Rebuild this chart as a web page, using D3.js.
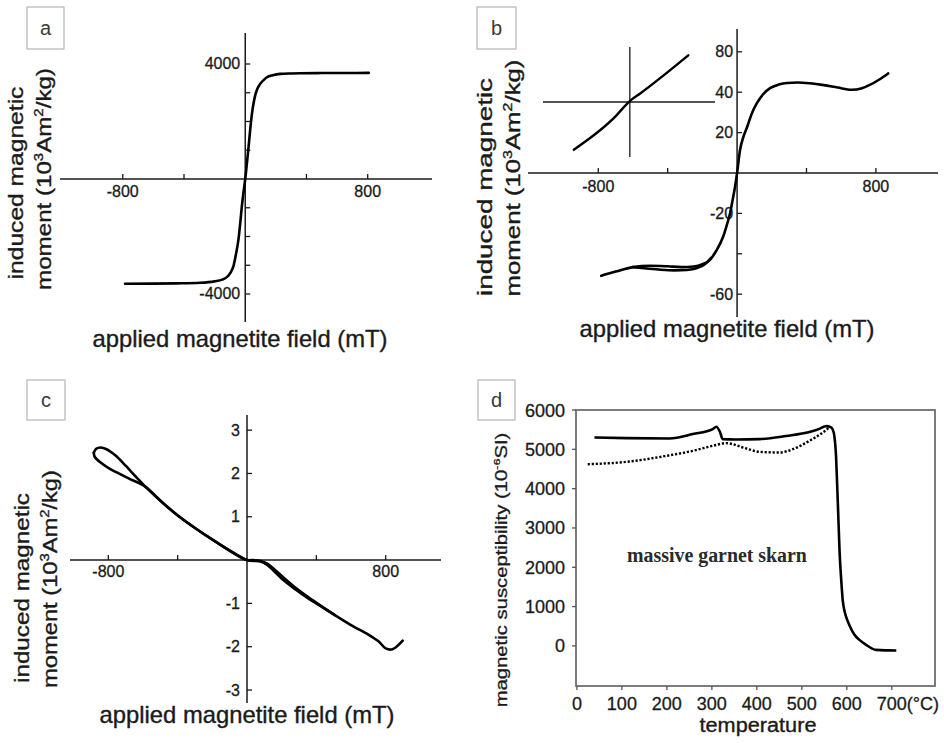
<!DOCTYPE html>
<html><head><meta charset="utf-8">
<script src="https://cdn.jsdelivr.net/npm/d3@7"></script>
<style>body{margin:0;background:#fff}</style>
</head><body>
<svg id="chart" width="944" height="743"></svg>
<script>
// ---------- DATA ----------
// Panel a: hysteresis loop
const aField  = [-785,-600,-450,-294,-200,-150,-120,-95,-76,-60,-44,-33,-22,-11,0,11,22,33,44,55,65,80,98,120,142,180,229,300,360,500,650,807];
const aMoment = [-3644,-3640,-3630,-3609,-3560,-3500,-3414,-3250,-3011,-2600,-2092,-1550,-943,-450,0,550,1126,1750,2276,2650,2908,3150,3310,3440,3540,3610,3655,3670,3678,3685,3688,3690];
const aXTicks = [-800,-400,400,800];
const aXTickLabels = ["-800","","","800"];
const aYTicks = [4000,3000,2000,1000,-1000,-2000,-3000,-4000];
const aYTickLabels = ["4000","","","","","","","-4000"];

// Panel b
const bField  = [-783,-700,-600,-500,-400,-320,-250,-200,-156,-120,-81,-60,-40,-25,-12,0,17,35,58,85,115,150,190,240,288,350,420,500,580,660,720,765,820,871];
const bMoment = [-50.9,-48.8,-46.6,-45.9,-46.2,-46.6,-46.3,-45.2,-43,-38.5,-31.7,-26,-19.8,-13,-6.9,0,11.4,17.5,22.8,29.5,34.7,39,42,43.8,44.6,44.8,44.4,43.5,42.3,41.2,42,43.6,46.3,49.3];
const bLoopField  = [-600,-520,-440,-360,-290,-230,-180,-150];
const bLoopMoment = [-46.6,-47.3,-47.9,-48.2,-48,-47,-44.8,-42];
const bInsetX = [-1.68,-0.40,-0.10,0.05,0.30,1.75];
const bInsetY = [-1.43,-0.40,-0.07,0.07,0.25,1.40];
const bXTicks = [-800,-400,400,800];
const bXTickLabels = ["-800","","","800"];
const bYTicks = [60,40,20,-20,-40,-60];
const bYTickLabels = ["80","40","20","-20","","-60"];

// Panel c
const cFieldA  = [898,839,800,760,700,600,507,420,351,280,215,160,117,78,30,0,-78,-195,-300,-390,-480,-585,-640,-700,-760,-810,-845,-870,-884];
const cMomentA = [-1.86,-2.06,-2.04,-1.88,-1.72,-1.5,-1.27,-1.04,-0.85,-0.64,-0.42,-0.22,-0.08,-0.02,0,0,0.17,0.46,0.74,1.0,1.3,1.69,1.92,2.18,2.42,2.56,2.6,2.57,2.48];
const cFieldB  = [-884,-878,-850,-800,-740,-680,-620,-585,-480,-390,-195,0,78,117,160,215,280,351,420,507];
const cMomentB = [2.48,2.38,2.27,2.13,2.0,1.88,1.77,1.69,1.3,1.0,0.46,0,-0.03,-0.11,-0.27,-0.48,-0.68,-0.88,-1.05,-1.27];
const cXTicks = [-800,-400,400,800];
const cXTickLabels = ["-800","","","800"];
const cYTicks = [3,2,1,-1,-2,-3];
const cYTickLabels = ["3","2","1","-1","-2","-3"];

// Panel d: thermomagnetic curves
const dTempHeat = [39,110,206,258,302,310,318,324,354,406,465,517,539,554,565,571,574,576,578,580,584,588,591,595,599,606,617,628,643,665,690,710];
const dSuscHeat = [5302,5285,5277,5387,5515,5574,5440,5260,5250,5260,5340,5440,5520,5590,5560,5420,5150,4834,4250,3643,2366,1600,1150,880,720,520,281,153,26,-102,-115,-119];
const dTempCool = [24,110,199,258,302,332,369,406,450,480,517,547,561];
const dSuscCool = [4621,4681,4834,4962,5089,5157,5047,4936,4919,5004,5217,5430,5557];
const dXTicks = [0,100,200,300,400,500,600,700];
const dXTickLabels = ["0","100","200","300","400","500","600","700"];
const dYTicks = [6000,5000,4000,3000,2000,1000,0];
const dYTickLabels = ["6000","5000","4000","3000","2000","1000","0"];

// ---------- DRAWING ----------
const svg = d3.select("#chart");
const FONT = "'Liberation Sans', Arial, Helvetica, sans-serif";
const INK = "#1a1a1a";

function addText(parent, parts, o) {
  const size = o.size;
  const t = parent.append("text")
    .attr("font-family", o.family || FONT)
    .attr("font-size", size)
    .attr("font-weight", o.weight || "normal")
    .attr("fill", o.fill || INK)
    .attr("stroke", o.fill || INK)
    .attr("stroke-width", o.sw === undefined ? 0.35 : o.sw)
    .attr("text-anchor", o.anchor || "middle");
  let shifted = false;
  parts.forEach(p => {
    const sup = typeof p !== "string";
    const ts = t.append("tspan").text(sup ? p.sup : p);
    if (sup) {
      ts.attr("font-size", size * 0.62);
      if (!shifted) ts.attr("dy", -size * 0.42);
      shifted = true;
    } else if (shifted) {
      ts.attr("dy", size * 0.42);
      shifted = false;
    }
  });
  let sx = 1;
  if (o.length) { const w = t.node().getBBox().width; sx = o.length / w; }
  t.attr("transform", `translate(${o.x},${o.y}) rotate(${o.rotate || 0}) scale(${sx},1)`);
  return t;
}

function tickText(g, x, y, anchor, size, txt) {
  return g.append("text").attr("x", x).attr("y", y).attr("text-anchor", anchor)
    .attr("font-family", FONT).attr("font-size", size).attr("fill", INK)
    .attr("stroke", INK).attr("stroke-width", 0.3).text(txt);
}

function letterBox(x, y, w, h, letter) {
  svg.append("rect").attr("x", x).attr("y", y).attr("width", w).attr("height", h)
    .attr("fill", "#fff").attr("stroke", "#b5b5b5").attr("stroke-width", 1.2);
  svg.append("text").attr("x", x + w / 2).attr("y", y + h / 2 + 7)
    .attr("text-anchor", "middle").attr("font-family", FONT).attr("font-size", 20)
    .attr("fill", "#3a3a3a").text(letter);
}

function drawHyst(c) {
  const g = svg.append("g");
  const x = d3.scaleLinear().domain(c.xDomain).range(c.xRange);
  const y = d3.scaleLinear().domain(c.yDomain).range(c.yRange);
  const x0 = x(0), y0 = y(0);
  g.append("line").attr("x1", c.xRange[0]).attr("x2", c.xRange[1]).attr("y1", y0).attr("y2", y0)
    .attr("stroke", INK).attr("stroke-width", 1.5);
  g.append("line").attr("x1", x0).attr("x2", x0).attr("y1", c.yRange[0]).attr("y2", c.yRange[1])
    .attr("stroke", INK).attr("stroke-width", 1.5);
  c.xTicks.forEach((v, i) => {
    g.append("line").attr("x1", x(v)).attr("x2", x(v)).attr("y1", y0).attr("y2", y0 - 5)
      .attr("stroke", INK).attr("stroke-width", 1.3);
    if (c.xTickLabels[i]) tickText(g, x(v), y0 + c.xLabOff, "middle", 16, c.xTickLabels[i]);
  });
  c.yTicks.forEach((v, i) => {
    g.append("line").attr("x1", x0).attr("x2", x0 + 5).attr("y1", y(v)).attr("y2", y(v))
      .attr("stroke", INK).attr("stroke-width", 1.3);
    if (c.yTickLabels[i]) tickText(g, x0 - c.yLabOff, y(v) + 5.5, "end", 16, c.yTickLabels[i]);
  });
  c.series.forEach(s => {
    const pts = s.xs.map((v, i) => [x(v), y(s.ys[i])]);
    g.append("path").attr("d", d3.line().curve(s.curve || d3.curveCatmullRom.alpha(0.5))(pts))
      .attr("fill", "none").attr("stroke", "#000").attr("stroke-width", 2.6)
      .attr("stroke-linejoin", "round").attr("stroke-linecap", "round");
  });
  addText(g, ["applied magnetite field (mT)"], {x: c.xLab[0], y: c.xLab[1], size: 23, length: 295});
  addText(g, ["induced magnetic"], {x: c.yLab1[0], y: c.yLab1[1], size: 20, rotate: -90, length: c.yLab1[2]});
  addText(g, ["moment (10", {sup: "3"}, "Am", {sup: "2"}, "/kg)"], {x: c.yLab2[0], y: c.yLab2[1], size: 20, rotate: -90, length: c.yLab2[2]});
  return {g, x, y};
}

// Panel a
letterBox(27, 7, 37, 42, "a");
drawHyst({
  xDomain: [-1210, 1220], xRange: [60, 432],
  yDomain: [-4974, 5078], yRange: [322, 33],
  xTicks: aXTicks, xTickLabels: aXTickLabels, xLabOff: 18,
  yTicks: aYTicks, yTickLabels: aYTickLabels, yLabOff: 5,
  series: [{xs: aField, ys: aMoment, curve: d3.curveMonotoneX}],
  xLab: [240, 347], yLab1: [23, 183, 193], yLab2: [51, 179, 222]
});

// Panel b
letterBox(477, 7, 39, 42, "b");
drawHyst({
  xDomain: [-1205, 1158], xRange: [528, 938],
  yDomain: [-71.3, 71.3], yRange: [317, 29],
  xTicks: bXTicks, xTickLabels: bXTickLabels, xLabOff: 19,
  yTicks: bYTicks, yTickLabels: bYTickLabels, yLabOff: 4,
  series: [{xs: bField, ys: bMoment, curve: d3.curveMonotoneX},
           {xs: bLoopField, ys: bLoopMoment, curve: d3.curveMonotoneX}],
  xLab: [727, 337], yLab1: [492, 187, 218], yLab2: [520, 178, 237]
});
{
  const ix = d3.scaleLinear().domain([-2.6, 2.55]).range([543, 715]);
  const iy = d3.scaleLinear().domain([-1.65, 1.65]).range([157, 47]);
  svg.append("line").attr("x1", ix(-2.6)).attr("x2", ix(2.55)).attr("y1", iy(0)).attr("y2", iy(0))
    .attr("stroke", INK).attr("stroke-width", 1.3);
  svg.append("line").attr("x1", ix(0)).attr("x2", ix(0)).attr("y1", iy(1.65)).attr("y2", iy(-1.65))
    .attr("stroke", INK).attr("stroke-width", 1.3);
  svg.append("path").attr("d", d3.line().curve(d3.curveMonotoneX)(bInsetX.map((v, i) => [ix(v), iy(bInsetY[i])])))
    .attr("fill", "none").attr("stroke", "#000").attr("stroke-width", 2.4).attr("stroke-linecap", "round");
}

// Panel c
letterBox(27, 380, 38, 40, "c");
drawHyst({
  xDomain: [-1021, 1119], xRange: [70, 441],
  yDomain: [-3.30, 3.35], yRange: [703, 415],
  xTicks: cXTicks, xTickLabels: cXTickLabels, xLabOff: 17,
  yTicks: cYTicks, yTickLabels: cYTickLabels, yLabOff: 7,
  series: [{xs: cFieldA, ys: cMomentA}, {xs: cFieldB, ys: cMomentB}],
  xLab: [247, 723], yLab1: [29, 588, 190], yLab2: [57, 579, 218]
});

// Panel d
letterBox(478, 380, 37, 40, "d");
{
  const g = svg.append("g");
  const x = d3.scaleLinear().domain([-2, 796]).range([576, 935]);
  const y = d3.scaleLinear().domain([-1020, 6000]).range([686, 410]);
  g.append("rect").attr("x", 576).attr("y", 410).attr("width", 359).attr("height", 276)
    .attr("fill", "none").attr("stroke", "#6e6e6e").attr("stroke-width", 1.8);
  dXTicks.forEach((v, i) => {
    g.append("line").attr("x1", x(v)).attr("x2", x(v)).attr("y1", 686).attr("y2", 690)
      .attr("stroke", "#555").attr("stroke-width", 1.3);
    tickText(g, x(v), 710, "middle", 18, dXTickLabels[i]);
  });
  tickText(g, x(700) + 15, 710, "start", 18, "(°C)");
  dYTicks.forEach((v, i) => {
    g.append("line").attr("x1", 572).attr("x2", 576).attr("y1", y(v)).attr("y2", y(v))
      .attr("stroke", "#555").attr("stroke-width", 1.3);
    tickText(g, 565, y(v) + 6.5, "end", 18, dYTickLabels[i]);
  });
  g.append("path").attr("d", d3.line().x(d => x(d[0])).y(d => y(d[1])).curve(d3.curveMonotoneX)(dTempCool.map((v, i) => [v, dSuscCool[i]])))
    .attr("fill", "none").attr("stroke", "#000").attr("stroke-width", 2.4).attr("stroke-dasharray", "2.2,1.8");
  g.append("path").attr("d", d3.line().x(d => x(d[0])).y(d => y(d[1])).curve(d3.curveMonotoneX)(dTempHeat.map((v, i) => [v, dSuscHeat[i]])))
    .attr("fill", "none").attr("stroke", "#000").attr("stroke-width", 2.6).attr("stroke-linejoin", "round");
  addText(g, ["massive garnet skarn"], {x: 717, y: 562, size: 20, length: 180, sw: 0,
    family: "'Liberation Serif', 'Times New Roman', serif", weight: "bold", fill: "#2a2a2a"});
  addText(g, ["temperature"], {x: 758, y: 732, size: 20, length: 117});
  addText(g, ["magnetic susceptibility (10", {sup: "-6"}, "SI)"], {x: 507, y: 570, size: 16, rotate: -90, length: 275, sw: 0.3});
}
</script>
</body></html>
